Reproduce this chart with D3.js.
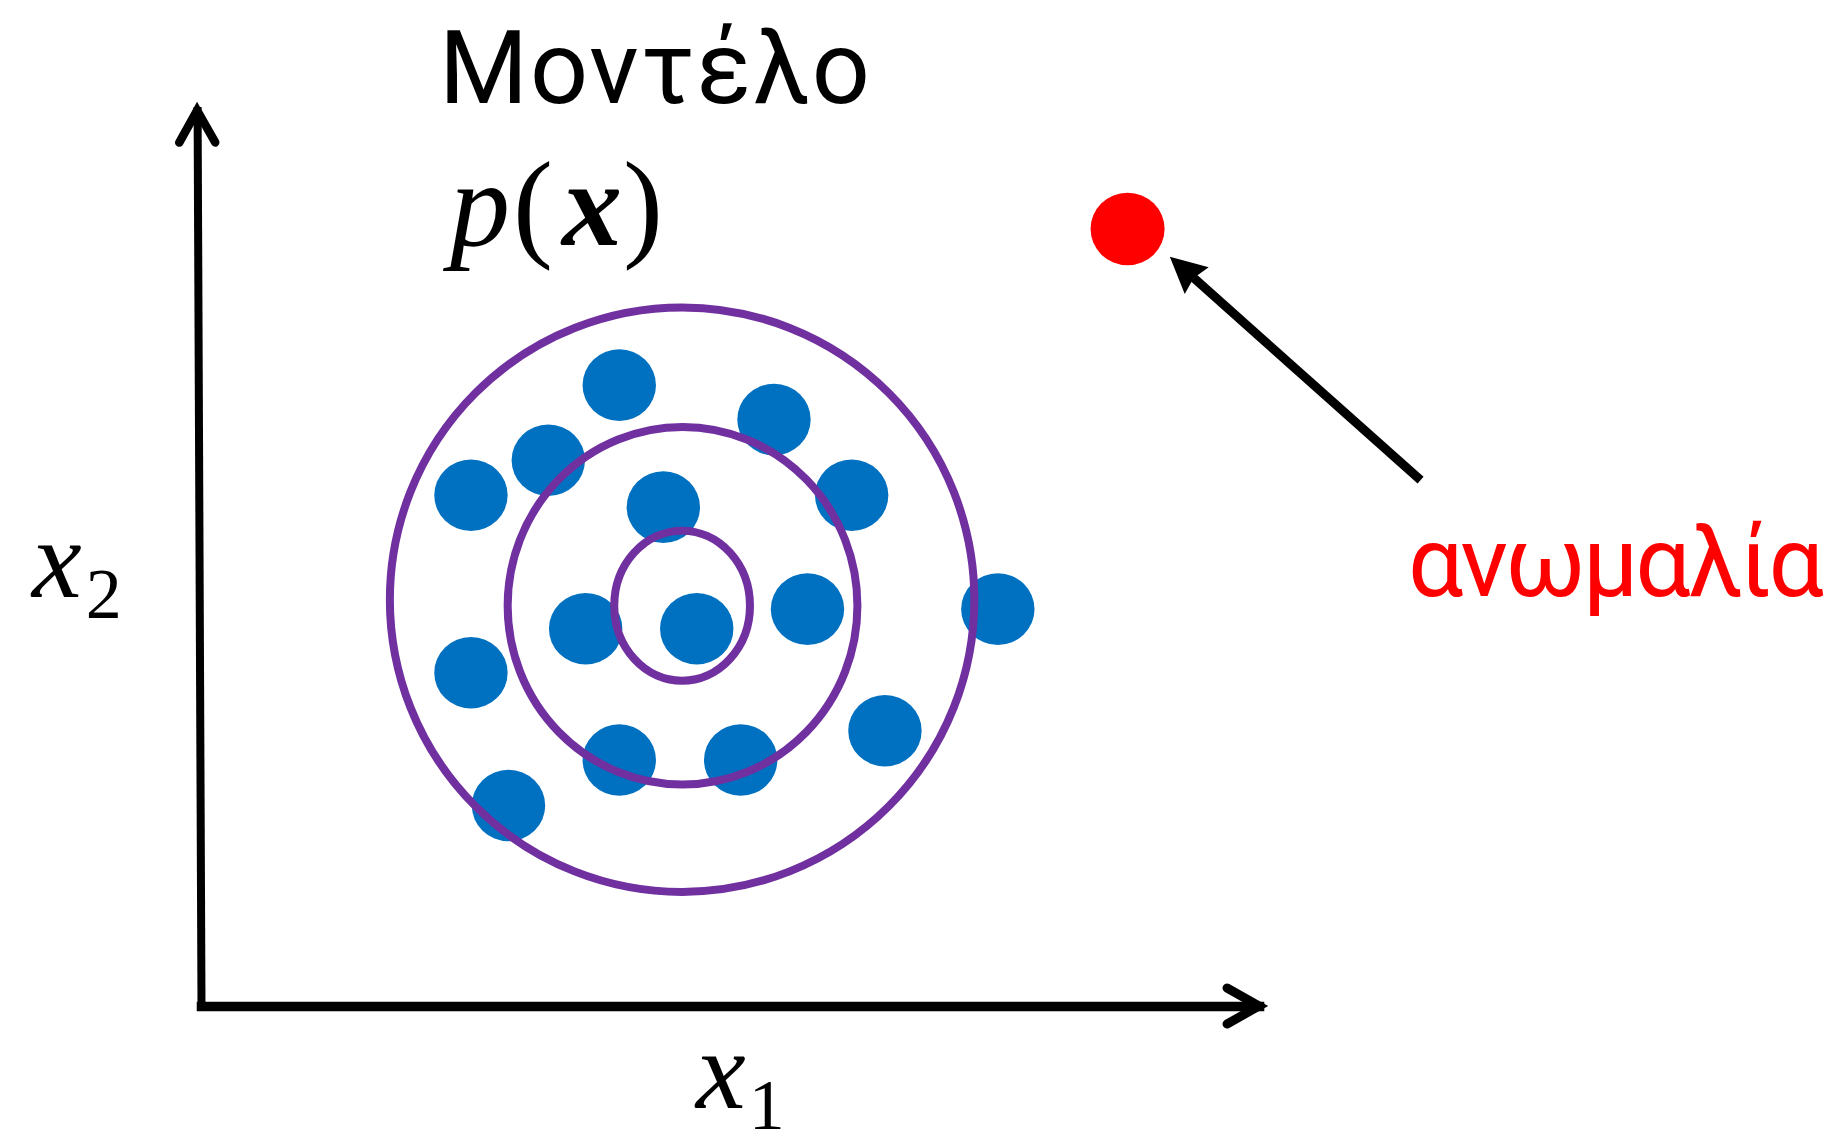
<!doctype html>
<meta charset="utf-8">

<style>
body {
  margin: 0;
  background: #fff;
}
svg {
  display: block;
}
.word {
  font-family: Roboto, "Noto Sans", sans-serif;
}
.math {
  font-family: "Liberation Serif", serif;
}
.axis path {
  stroke: #000;
  stroke-linecap: square;
}
</style>

<svg id="chart" width="1828" height="1145"></svg>

<script src="https://d3js.org/d3.v7.min.js"></script>

<script>
  // normal samples, (x1, x2) in data units
  let pointX1 = [39.2, 53.7, 32.55, 25.3, 43.33, 60.98, 56.84, 74.68, 36.05, 46.46, 25.3, 39.2, 50.58, 64.1, 28.82];
  let pointX2 = [68.6, 64.8, 60.3, 56.44, 55.12, 56.44, 43.85, 43.85, 41.68, 41.68, 36.82, 27.18, 27.18, 30.41, 22.15];

  // the anomaly
  let anomalyX1 = [86.84];
  let anomalyX2 = [85.86];

  // contour levels of the model p(x): centre and radii
  let contourCx = [45.09, 45.13, 45.09];
  let contourCy = [44.9, 44.23, 44.23];
  let contourRx = [27.39, 16.39, 6.36];
  let contourRy = [32.29, 19.76, 8.29];

  // arrow from the label to the anomaly
  let arrowFrom = [114.3, 58.1];
  let arrowTo = [90.8, 82.8];

  // where the axis arrows end
  let axisEnd = [99.16, 98.95];

  let blue = "#0070C0",
      purple = "#7030A0",
      red = "#FF0000";

  let svg = d3.select("#chart");

  let x = d3.scaleLinear().domain([0, 100]).range([201, 1268]);
  let y = d3.scaleLinear().domain([0, 100]).range([1006, 101]);

  //
  // axes (no ticks, just the two arrows)
  //
  let xAxisScale = d3.scaleLinear().domain([0, axisEnd[0]]).range([x(0), x(axisEnd[0])]);
  let yAxisScale = d3.scaleLinear().domain([0, axisEnd[1]]).range([y(0), y(axisEnd[1])]);

  let headLen = 32, headHalf = 18;

  let gx = svg.append("g");
  gx.append("g")
    .attr("class", "axis")
    .attr("stroke-width", 9.5)
    .attr("transform", "translate(0," + y(0) + ")")
    .call(d3.axisBottom(xAxisScale).ticks(0).tickSizeOuter(0));
  let xe = xAxisScale.range()[1];
  gx.append("path")
    .attr("d", d3.line()([[xe - headLen, y(0) - headHalf], [xe, y(0)], [xe - headLen, y(0) + headHalf]]))
    .attr("fill", "none")
    .attr("stroke", "#000")
    .attr("stroke-width", 9)
    .attr("stroke-linecap", "round");

  // the vertical axis leans a little to the left, as in the drawing
  let gy = svg.append("g")
    .attr("transform", "rotate(-0.25," + x(0) + "," + y(0) + ")");
  gy.append("g")
    .attr("class", "axis")
    .attr("stroke-width", 8)
    .attr("transform", "translate(" + x(0) + ",0)")
    .call(d3.axisLeft(yAxisScale).ticks(0).tickSizeOuter(0));
  let ye = yAxisScale.range()[1];
  gy.append("path")
    .attr("d", d3.line()([[x(0) - headHalf, ye + headLen], [x(0), ye], [x(0) + headHalf, ye + headLen]]))
    .attr("fill", "none")
    .attr("stroke", "#000")
    .attr("stroke-width", 8.5)
    .attr("stroke-linecap", "round");

  //
  // points
  //
  let points = pointX1.map((v, i) => ({x1: v, x2: pointX2[i]}));

  svg.selectAll(".pt")
    .data(points)
    .enter()
    .append("ellipse")
    .attr("class", "pt")
    .attr("cx", d => x(d.x1))
    .attr("cy", d => y(d.x2))
    .attr("rx", 36.7)
    .attr("ry", 35.8)
    .attr("fill", blue);

  //
  // contours on top of the points
  //
  let contours = contourCx.map((v, i) => ({cx: v, cy: contourCy[i], rx: contourRx[i], ry: contourRy[i]}));

  svg.selectAll(".contour")
    .data(contours)
    .enter()
    .append("ellipse")
    .attr("class", "contour")
    .attr("cx", d => x(d.cx))
    .attr("cy", d => y(d.cy))
    .attr("rx", d => x(d.cx + d.rx) - x(d.cx))
    .attr("ry", d => y(d.cy) - y(d.cy + d.ry))
    .attr("fill", "none")
    .attr("stroke", purple)
    .attr("stroke-width", 8);

  //
  // anomaly + arrow
  //
  svg.selectAll(".anomaly")
    .data(anomalyX1.map((v, i) => ({x1: v, x2: anomalyX2[i]})))
    .enter()
    .append("ellipse")
    .attr("class", "anomaly")
    .attr("cx", d => x(d.x1))
    .attr("cy", d => y(d.x2))
    .attr("rx", 37)
    .attr("ry", 36.3)
    .attr("fill", red);

  let tail = [x(arrowFrom[0]), y(arrowFrom[1])],
      tip = [x(arrowTo[0]), y(arrowTo[1])];
  let dx = tip[0] - tail[0], dy = tip[1] - tail[1];
  let len = Math.hypot(dx, dy);
  let ux = dx / len, uy = dy / len;
  let nx = -uy, ny = ux;
  let aLen = 36, aHalf = 18, notch = 4;
  let base = [tip[0] - ux * aLen, tip[1] - uy * aLen];

  svg.append("line")
    .attr("x1", tail[0])
    .attr("y1", tail[1])
    .attr("x2", base[0] + ux * notch)
    .attr("y2", base[1] + uy * notch)
    .attr("stroke", "#000")
    .attr("stroke-width", 9);

  svg.append("path")
    .attr("d", d3.line()([
      tip,
      [base[0] + nx * aHalf, base[1] + ny * aHalf],
      [base[0] + ux * notch, base[1] + uy * notch],
      [base[0] - nx * aHalf, base[1] - ny * aHalf]
    ]) + "Z")
    .attr("fill", "#000");

  //
  // labels
  //
  // spread a word so its glyphs reach a given width (spacing goes between letters)
  function fitWidth(t, target) {
    let n = t.text().length;
    let w = t.node().getComputedTextLength();
    t.attr("letter-spacing", (target - w) / (n - 1));
  }

  let title = svg.append("text")
    .attr("class", "word")
    .attr("x", 439)
    .attr("y", 102.7)
    .attr("font-size", 102)
    .text("Μοντέλο");
  fitWidth(title, 431);

  let px = svg.append("text")
    .attr("class", "math")
    .attr("x", 450)
    .attr("y", 245)
    .attr("font-size", 120);
  px.append("tspan").attr("font-style", "italic").text("p");
  px.append("tspan").attr("dx", 3).text("(");
  px.append("tspan").attr("dx", 9).attr("font-style", "italic").attr("font-weight", "bold").text("x");
  px.append("tspan").attr("dx", 1).text(")");

  let lx2 = svg.append("text")
    .attr("class", "math")
    .attr("x", 32)
    .attr("y", 597)
    .attr("font-size", 112);
  lx2.append("tspan").attr("font-style", "italic").text("x");
  lx2.append("tspan").attr("dx", 4).attr("dy", 21.3).attr("font-size", 72).text("2");

  // sits a few px higher than in the drawing so the label's box stays inside the picture
  let lx1 = svg.append("text")
    .attr("class", "math")
    .attr("x", 696)
    .attr("y", 1108)
    .attr("font-size", 112);
  lx1.append("tspan").attr("font-style", "italic").text("x");
  lx1.append("tspan").attr("dx", 3).attr("dy", 21).attr("font-size", 72).text("1");

  let anomalyLabel = svg.append("text")
    .attr("class", "word")
    .attr("x", 1408)
    .attr("y", 596)
    .attr("font-size", 98)
    .attr("fill", red)
    .text("ανωμαλία");
  fitWidth(anomalyLabel, 416);
</script>
